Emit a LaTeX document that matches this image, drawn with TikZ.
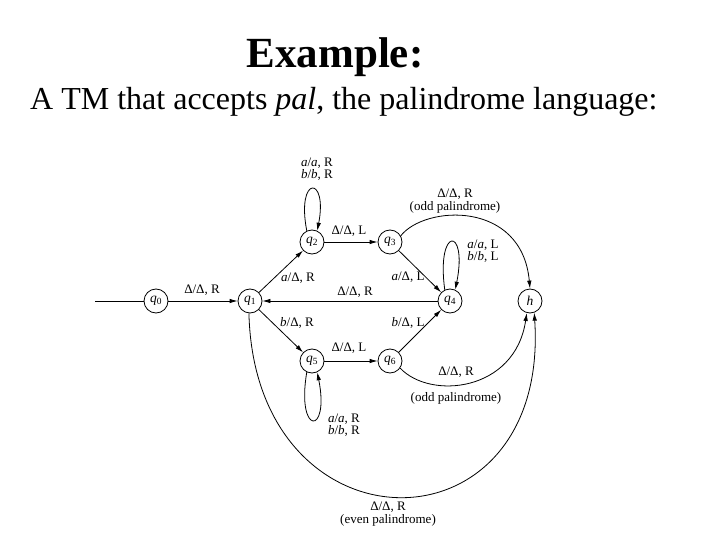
\documentclass[tikz,border=0pt]{standalone}
\usepackage{fontspec}
\setmainfont{Liberation Serif}
\usetikzlibrary{arrows.meta}
\tikzset{
  tmstate/.style={draw, circle, minimum size=24pt, inner sep=0pt, line width=0.8pt, font=\fontsize{13.5}{13.5}\selectfont},
  lbl/.style={font=\fontsize{13}{12.5}\selectfont, inner sep=0pt, align=center},
  tr/.style={line width=0.8pt, -{Latex[length=8pt,width=4.5pt]}},
  plain/.style={line width=0.8pt},
}
\begin{document}
\begin{tikzpicture}[x=1pt,y=-1pt]
\useasboundingbox (0,0) rectangle (720,540);
\node[anchor=base, inner sep=0pt, font=\fontsize{43}{43}\selectfont\bfseries] (title) at (335,68) {Example:};
\node[anchor=base west, inner sep=0pt, font=\fontsize{32}{32}\selectfont] (sub) at (30,110) {A TM that accepts \textit{pal}, the palindrome language:};

\node[tmstate] (q0) at (156,301) {\textit{q}\textsubscript{0}};
\node[tmstate] (q1) at (250,301) {\textit{q}\textsubscript{1}};
\node[tmstate] (q2) at (312,242) {\textit{q}\textsubscript{2}};
\node[tmstate] (q3) at (390,242) {\textit{q}\textsubscript{3}};
\node[tmstate] (q4) at (450,301) {\textit{q}\textsubscript{4}};
\node[tmstate] (h)  at (530,301) {\textit{h}};
\node[tmstate] (q5) at (312,361) {\textit{q}\textsubscript{5}};
\node[tmstate] (q6) at (390,361) {\textit{q}\textsubscript{6}};
\coordinate (in) at (95,301);

\draw[plain] (in) -- (q0);
\draw[tr] (q0) -- (q1);
\draw[tr] (q1) -- (q2);
\draw[tr] (q1) -- (q5);
\draw[tr] (q2) -- (q3);
\draw[tr] (q3) -- (q4);
\draw[tr] (q4) -- (q1);
\draw[tr] (q5) -- (q6);
\draw[tr] (q6) -- (q4);
\draw[tr] (q2.115) .. controls (296,175) and (328,175) .. (q2.65);
\draw[tr] (q4.115) .. controls (436,226) and (468,226) .. (q4.65);
\draw[tr] (q5.245) .. controls (296,436) and (330,436) .. (q5.295);
\draw[tr] (q3.30) .. controls (425,205) and (522,200) .. (h.north);
\draw[tr] (q6.-35) .. controls (430,400) and (515,392) .. (h.255);
\draw[tr] (q1.265) .. controls (255,558) and (550,558) .. (h.290);

\node[lbl] (l01) at (202,290) {Δ/Δ, R};
\node[lbl] (l12) at (298,278) {\textit{a}/Δ, R};
\node[lbl] (l15) at (297,323) {\textit{b}/Δ, R};
\node[lbl] (l22) at (317,169) {\textit{a}/\textit{a}, R\\\textit{b}/\textit{b}, R};
\node[lbl] (l23) at (349,231) {Δ/Δ, L};
\node[lbl] (l3h) at (455,201) {Δ/Δ, R\\(odd palindrome)};
\node[lbl] (l44) at (483,251) {\textit{a}/\textit{a}, L\\\textit{b}/\textit{b}, L};
\node[lbl] (l34) at (408,277) {\textit{a}/Δ, L};
\node[lbl] (l41) at (355,292) {Δ/Δ, R};
\node[lbl] (l64) at (408,323) {\textit{b}/Δ, L};
\node[lbl] (l56) at (349,348) {Δ/Δ, L};
\node[lbl] (l6ha) at (456,372) {Δ/Δ, R};
\node[lbl] (l6hb) at (456,398) {(odd palindrome)};
\node[lbl] (l55) at (344,425) {\textit{a}/\textit{a}, R\\\textit{b}/\textit{b}, R};
\node[lbl] (l1h) at (388,514) {Δ/Δ, R\\(even palindrome)};
\end{tikzpicture}
\end{document}
